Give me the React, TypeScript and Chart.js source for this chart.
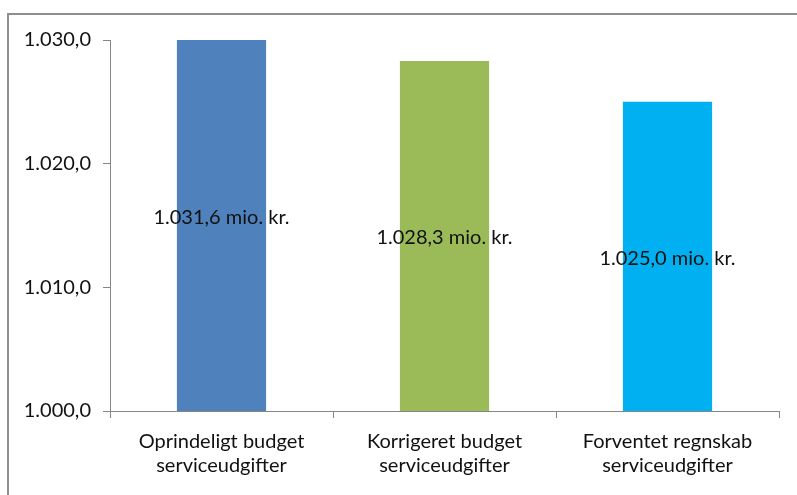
import React, { useEffect, useRef } from "react";
import { Chart, registerables } from "chart.js";

Chart.register(...registerables);

const categories: string[][] = [
  ["Oprindeligt budget", "serviceudgifter"],
  ["Korrigeret budget", "serviceudgifter"],
  ["Forventet regnskab", "serviceudgifter"],
];
const values: number[] = [1031.6, 1028.3, 1025.0];
const colors: string[] = ["#4F81BD", "#9BBB59", "#00B0F0"];
const yMin = 1000;
const yMax = 1030;
const yStep = 10;
const unit = "mio. kr.";

function fmt(v: number): string {
  const fixed = v.toFixed(1);
  const [intPart, dec] = fixed.split(".");
  const withDots = intPart.replace(/\B(?=(\d{3})+(?!\d))/g, ".");
  return withDots + "," + dec;
}

const FONT = "Lato, Carlito, 'Open Sans', sans-serif";

const framePlugin = {
  id: "frame",
  beforeDraw(chart: any) {
    const ctx = chart.ctx;
    ctx.save();
    ctx.fillStyle = "#ffffff";
    ctx.fillRect(0, 0, chart.width, chart.height);
    ctx.strokeStyle = "#8e8e8e";
    ctx.lineWidth = 2;
    ctx.strokeRect(8, 14, chart.width + 20, chart.height + 20);
    ctx.restore();
  },
};

const labelPlugin = {
  id: "barLabels",
  afterDatasetsDraw(chart: any) {
    const ctx = chart.ctx;
    const meta = chart.getDatasetMeta(0);
    const yScale = chart.scales.y;
    ctx.save();
    ctx.font = `20px ${FONT}`;
    ctx.fillStyle = "#111111";
    ctx.textAlign = "center";
    ctx.textBaseline = "middle";
    meta.data.forEach((bar: any, i: number) => {
      const v = values[i];
      const top = yScale.getPixelForValue(v);
      const base = yScale.getPixelForValue(yMin);
      const y = (top + base) / 2 + 2;
      ctx.fillText(`${fmt(v)} ${unit}`, bar.x, y);
    });
    ctx.restore();
  },
};

export default function App() {
  const ref = useRef<HTMLCanvasElement | null>(null);
  useEffect(() => {
    if (!ref.current) return;
    const chart = new Chart(ref.current, {
      type: "bar",
      data: {
        labels: categories,
        datasets: [
          {
            data: values,
            backgroundColor: colors,
            borderWidth: 0,
            barPercentage: 0.4,
            categoryPercentage: 1,
          },
        ],
      },
      options: {
        animation: false,
        responsive: false,
        maintainAspectRatio: false,
        layout: { padding: { top: 40, right: 18, left: 0, bottom: 0 } },
        plugins: {
          legend: { display: false },
          tooltip: { enabled: false },
        },
        scales: {
          x: {
            grid: {
              display: true,
              drawOnChartArea: false,
              drawTicks: true,
              tickLength: 7,
              color: "#868686",
              offset: true,
            },
            border: { display: true, color: "#868686", width: 1 },
            ticks: {
              color: "#111111",
              font: { family: FONT, size: 20, lineHeight: 1.2 },
              padding: 12,
              maxRotation: 0,
              autoSkip: false,
            },
            afterFit(scale: any) {
              scale.height = 84;
            },
          },
          y: {
            min: yMin,
            max: yMax,
            grid: {
              display: true,
              drawOnChartArea: false,
              drawTicks: true,
              tickLength: 7,
              color: "#868686",
            },
            border: { display: true, color: "#868686", width: 1 },
            ticks: {
              stepSize: yStep,
              color: "#111111",
              font: { family: FONT, size: 20 },
              padding: 12,
              callback: (v: any) => fmt(Number(v)),
            },
            afterFit(scale: any) {
              scale.width = 110;
            },
          },
        },
      },
      plugins: [framePlugin, labelPlugin],
    });
    return () => chart.destroy();
  }, []);
  return (
    <div style={{ position: "fixed", left: 0, top: 0, width: 797, height: 495 }}>
      <canvas ref={ref} width={797} height={495} style={{ display: "block" }} />
    </div>
  );
}
